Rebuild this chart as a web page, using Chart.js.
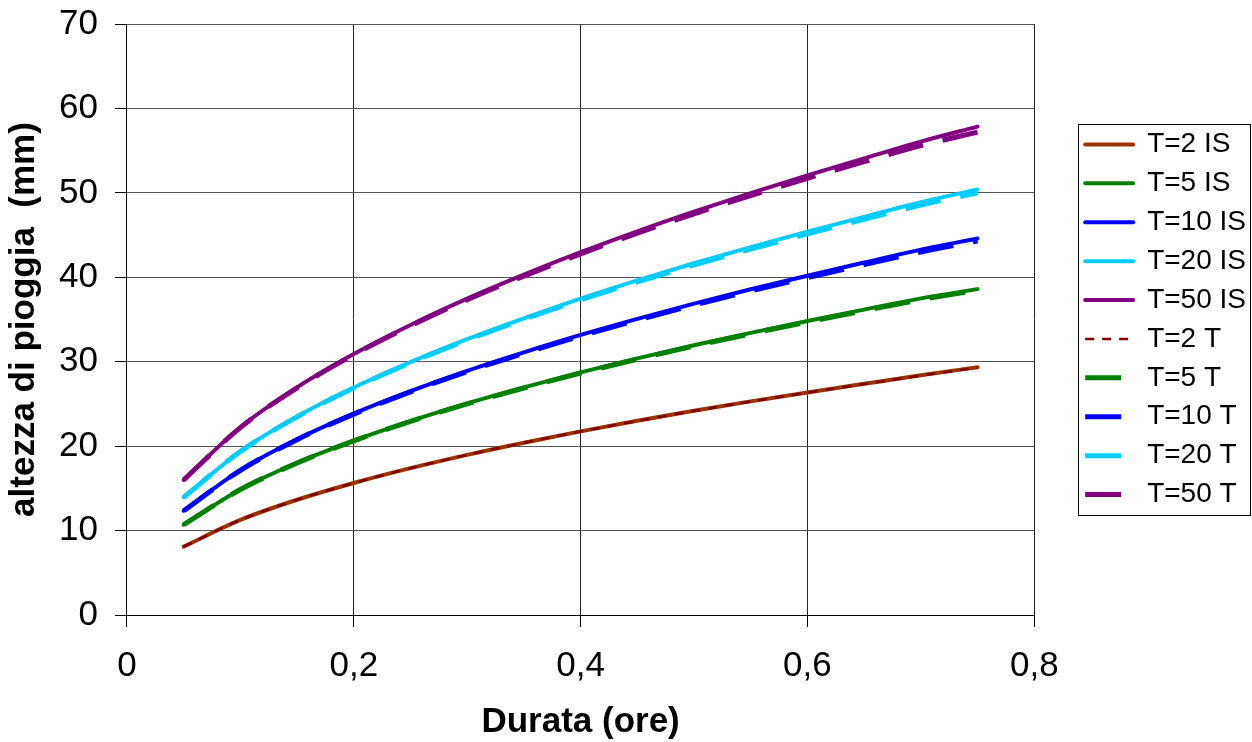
<!DOCTYPE html>
<html lang="it">
<head>
<meta charset="utf-8">
<title>Altezza di pioggia - durata</title>
<script src="https://cdn.jsdelivr.net/npm/chart.js@4.4.1/dist/chart.umd.min.js"></script>
<style>
  html, body { margin: 0; padding: 0; background: #ffffff; }
  #wrap { width: 1252px; height: 742px; position: relative; }
</style>
</head>
<body>
<div id="wrap"><canvas id="grafico"></canvas></div>
<script>
// ======================
// Dati: durata (ore) e altezze di pioggia (mm)
// ======================
const durata = [0.05, 0.10, 0.15, 0.20, 0.25, 0.30, 0.35, 0.40, 0.45, 0.50, 0.55, 0.60, 0.65, 0.70, 0.75];

// curve IS
const hT2IS  = [8.10, 11.26, 13.65, 15.64, 17.39, 18.97, 20.41, 21.75, 23.01, 24.19, 25.30, 26.36, 27.38, 28.39, 29.35];
const hT5IS  = [10.70, 14.87, 18.03, 20.66, 22.97, 25.06, 26.96, 28.74, 30.39, 31.95, 33.42, 34.82, 36.17, 37.50, 38.60];
const hT10IS = [12.35, 17.16, 20.81, 23.85, 26.51, 28.92, 31.11, 33.17, 35.08, 36.88, 38.58, 40.19, 41.75, 43.28, 44.60];
const hT20IS = [13.95, 19.39, 23.51, 26.94, 29.95, 32.67, 35.14, 37.47, 39.63, 41.66, 43.57, 45.40, 47.16, 48.89, 50.40];
const hT50IS = [16.00, 22.23, 26.96, 30.90, 34.35, 37.47, 40.31, 42.97, 45.45, 47.78, 49.98, 52.07, 54.09, 56.07, 57.85];

// curve T
const hT2T  = [8.10, 11.25, 13.64, 15.63, 17.38, 18.96, 20.40, 21.73, 22.99, 24.17, 25.28, 26.34, 27.35, 28.36, 29.30];
const hT5T  = [10.70, 14.86, 18.00, 20.62, 22.92, 25.00, 26.89, 28.66, 30.30, 31.85, 33.31, 34.70, 36.04, 37.35, 38.45];
const hT10T = [12.35, 17.14, 20.77, 23.79, 26.43, 28.83, 31.00, 33.04, 34.93, 36.71, 38.38, 39.97, 41.50, 43.00, 44.30];
const hT20T = [13.95, 19.37, 23.47, 26.88, 29.87, 32.57, 35.02, 37.32, 39.46, 41.46, 43.34, 45.14, 46.87, 48.56, 50.00];
const hT50T = [16.00, 22.20, 26.90, 30.82, 34.24, 37.33, 40.14, 42.77, 45.22, 47.51, 49.67, 51.72, 53.69, 55.60, 57.20];

// etichette assi
const xTickLabels = ["0", "0,2", "0,4", "0,6", "0,8"];
const yTickLabels = ["0", "10", "20", "30", "40", "50", "60", "70"];

// ======================
// Funzioni auxiliari
// ======================
const FONT = "'Liberation Sans', Arial, Helvetica, sans-serif";
Chart.defaults.font.family = FONT;
Chart.defaults.color = "#000000";

function punti(valori) {
  return durata.map((d, i) => ({ x: d, y: valori[i] }));
}

function serieIS(label, valori, colore) {
  return {
    label: label,
    data: punti(valori),
    borderColor: colore,
    backgroundColor: colore,
    borderWidth: 4,
    borderCapStyle: "round",
    pointRadius: 0,
    cubicInterpolationMode: "monotone",
    fill: false,
    order: 2,
  };
}

function serieT(label, valori, colore, spessore, tratteggio) {
  return {
    label: label,
    data: punti(valori),
    borderColor: colore,
    backgroundColor: colore,
    borderWidth: spessore,
    borderDash: tratteggio,
    borderCapStyle: "butt",
    pointRadius: 0,
    cubicInterpolationMode: "monotone",
    fill: false,
    order: 1,
  };
}

// voci di legenda con lo stesso tratto della linea
function vociLegenda(chart) {
  const voci = Chart.defaults.plugins.legend.labels.generateLabels(chart);
  voci.forEach((v) => {
    const ds = chart.data.datasets[v.datasetIndex];
    v.lineDash = ds.borderDash || [];
    v.lineWidth = ds.borderWidth;
    v.lineCap = ds.borderCapStyle;
    v.strokeStyle = ds.borderColor;
  });
  return voci;
}

// cornice della legenda + spostamento verso destra
const spostamentoLegenda = 40;
const cornice = {
  id: "corniceLegenda",
  afterLayout(chart) {
    const lg = chart.legend;
    lg.left += spostamentoLegenda;
    lg.right += spostamentoLegenda;
  },
  afterDraw(chart) {
    const boxes = chart.legend.legendHitBoxes;
    if (!boxes || !boxes.length) return;
    const primo = boxes[0];
    const ultimo = boxes[boxes.length - 1];
    const x0 = Math.round(primo.left - 7) + 0.5;
    const y0 = Math.round(primo.top - 6) + 0.5;
    const y1 = Math.round(ultimo.top + ultimo.height + 6) + 0.5;
    const ctx = chart.ctx;
    ctx.save();
    ctx.strokeStyle = "#000000";
    ctx.lineWidth = 1;
    ctx.setLineDash([]);
    ctx.strokeRect(x0, y0, 172, y1 - y0);
    ctx.restore();
  }
};

// ======================
// Grafico
// ======================
const ctx = document.getElementById("grafico").getContext("2d");
new Chart(ctx, {
  type: "line",
  data: {
    datasets: [
      serieIS("T=2 IS", hT2IS, "#993300"),
      serieIS("T=5 IS", hT5IS, "#008000"),
      serieIS("T=10 IS", hT10IS, "#0000FF"),
      serieIS("T=20 IS", hT20IS, "#00CCFF"),
      serieIS("T=50 IS", hT50IS, "#800080"),
      serieT("T=2 T", hT2T, "#800000", 2.5, [9, 8]),
      serieT("T=5 T", hT5T, "#008000", 5, [36, 20]),
      serieT("T=10 T", hT10T, "#0000FF", 5, [36, 20]),
      serieT("T=20 T", hT20T, "#00CCFF", 5, [36, 20]),
      serieT("T=50 T", hT50T, "#800080", 5, [36, 20]),
    ],
  },
  options: {
    responsive: true,
    maintainAspectRatio: false,
    animation: false,
    layout: { padding: { left: 0, top: 24, right: 36, bottom: 0 } },
    plugins: {
      legend: {
        position: "right",
        fullSize: false,
        align: "center",
        labels: {
          usePointStyle: true,
          pointStyle: "line",
          pointStyleWidth: 48,
          padding: 10.9,
          color: "#000000",
          font: { size: 28, family: FONT },
          sort: (a, b) => a.datasetIndex - b.datasetIndex,
          generateLabels: vociLegenda,
        },
      },
      tooltip: { enabled: false },
    },
    scales: {
      x: {
        type: "linear",
        min: 0,
        max: 0.8,
        ticks: {
          stepSize: 0.2,
          padding: 21.5,
          font: { size: 35, lineHeight: 1 },
          color: "#000000",
          callback: (v, i) => xTickLabels[i],
        },
        grid: { color: "#222222", lineWidth: 1, tickLength: 12, tickColor: "#000000" },
        border: { color: "#000000", width: 1 },
        title: {
          display: true,
          text: "Durata (ore)",
          font: { size: 35, weight: "bold", lineHeight: 1.2 },
          color: "#000000",
          padding: { top: -4, bottom: -1 },
        },
      },
      y: {
        min: 0,
        max: 70,
        ticks: {
          stepSize: 10,
          padding: 17,
          font: { size: 35, lineHeight: 0.4 },
          color: "#000000",
          callback: (v, i) => yTickLabels[i],
        },
        grid: { color: "#555555", lineWidth: 1, tickLength: 12, tickColor: "#000000" },
        border: { color: "#000000", width: 1 },
        title: {
          display: true,
          text: "altezza di pioggia  (mm)",
          font: { size: 35, weight: "bold", lineHeight: 1.2 },
          color: "#000000",
          padding: { top: 3, bottom: -3 },
        },
      },
    },
  },
  plugins: [cornice],
});
</script>
</body>
</html>
